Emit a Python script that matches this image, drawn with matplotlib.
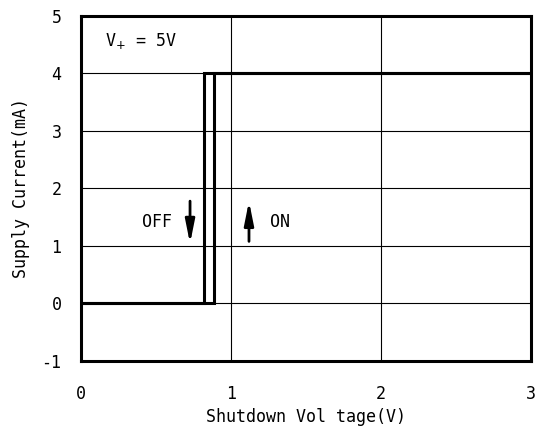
import matplotlib
matplotlib.use("Agg")
import matplotlib.pyplot as plt

# hysteresis data (shutdown voltage in V, supply current in mA)
off_v = [3.0, 0.82, 0.82, 0.0]
off_i = [4.0, 4.0, 0.0, 0.0]
on_v = [0.0, 0.89, 0.89, 3.0]
on_i = [0.0, 0.0, 4.0, 4.0]

x_ticks = [0, 1, 2, 3]
y_ticks = [-1, 0, 1, 2, 3, 4, 5]

plt.rcParams["font.family"] = ["DejaVu Sans Mono"]
plt.rcParams["font.size"] = 12
plt.rcParams["axes.unicode_minus"] = False

fig = plt.figure(figsize=(5.41, 4.32), dpi=100)
ax = fig.add_axes([0.1497, 0.1644, 0.8318, 0.7986])

ax.plot(off_v, off_i, color="black", lw=2.2, solid_joinstyle="miter")
ax.plot(on_v, on_i, color="black", lw=2.2, solid_joinstyle="miter")

ax.set_xlim(0, 3)
ax.set_ylim(-1, 5)
ax.set_xticks(x_ticks)
ax.set_yticks(y_ticks)
ax.grid(True, color="black", lw=0.8)
ax.set_axisbelow(True)
ax.tick_params(axis="x", length=0, pad=17)
ax.tick_params(axis="y", length=0, pad=14)
for s in ax.spines.values():
    s.set_linewidth(2.2)

ax.set_xlabel("Shutdown Vol tage(V)", labelpad=4)
ax.set_ylabel("Supply Current(mA)", labelpad=8)

# annotations
ax.text(0.16, 4.56, "V$_{+}$ = 5V", ha="left", va="center")
ax.text(0.51, 1.41, "OFF", ha="center", va="center")
ax.text(1.33, 1.41, "ON", ha="center", va="center")
arrow = dict(arrowstyle="-|>,head_width=0.2,head_length=1.0", color="black",
             lw=2, mutation_scale=14, shrinkA=0, shrinkB=0)
ax.annotate("", xy=(0.727, 1.04), xytext=(0.727, 1.78), arrowprops=arrow)
ax.annotate("", xy=(1.12, 1.78), xytext=(1.12, 1.08), arrowprops=arrow)

fig.savefig("out.png", dpi=100)
